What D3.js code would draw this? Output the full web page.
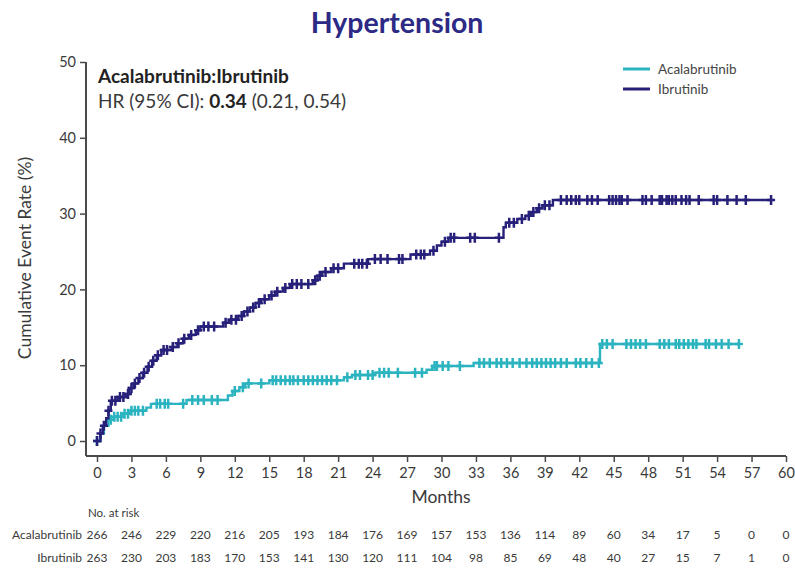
<!DOCTYPE html>
<html>
<head>
<meta charset="utf-8">
<script src="https://cdn.jsdelivr.net/npm/d3@7"></script>
<style>
  html, body { margin: 0; padding: 0; background: #fff; }
  svg { display: block; font-family: Lato, "Open Sans", sans-serif; }
</style>
</head>
<body>
<svg id="chart" width="795" height="570"></svg>
<script>
// Kaplan-Meier cumulative event curves: [month, cumulative event rate %]
const acalaSteps = [
  [0, 0], [0.3, 1], [0.6, 2], [1.0, 2.8], [1.5, 3.2], [2.2, 3.6], [2.8, 4.0],
  [4.3, 4.4], [4.7, 4.9], [7.8, 5.4], [11.4, 6.0], [11.8, 6.6], [12.4, 7.1],
  [12.9, 7.6], [15.0, 8.0], [21.5, 8.4], [22.2, 8.7], [24.2, 9.0], [28.7, 9.4],
  [29.2, 9.9], [32.8, 10.3], [43.8, 12.8]
];
const acalaEnd = 55.9;
const acalaCensor = [
  0, 1.2, 1.5, 1.8, 2.1, 2.4, 2.7, 3.0, 3.3, 3.6, 4.0, 5.2, 5.5, 5.9, 6.2, 7.5,
  8.3, 8.8, 9.3, 10.0, 10.5, 12.0, 12.7, 13.2, 14.3, 15.3, 15.6, 16.0, 16.4,
  16.8, 17.1, 17.5, 18.0, 18.4, 18.8, 19.2, 19.6, 20.0, 20.4, 20.9, 21.8, 22.5,
  22.9, 23.6, 24.0, 24.6, 25.0, 25.4, 26.2, 27.7, 28.3, 29.4, 29.6, 30.1, 30.6,
  31.6, 33.3, 33.7, 34.2, 34.8, 35.2, 35.7, 36.2, 36.8, 37.4, 37.9, 38.3, 38.7,
  39.1, 39.5, 39.9, 40.4, 40.9, 41.7, 42.1, 42.6, 43.1, 43.7, 44.0, 44.4, 44.9,
  46.1, 46.5, 46.9, 47.3, 47.8, 49.0, 49.4, 49.8, 50.4, 50.7, 51.1, 51.5, 51.9,
  52.2, 53.0, 53.3, 53.9, 54.4, 55.0, 55.9
];

const ibruSteps = [
  [0, 0], [0.3, 1], [0.5, 2], [0.8, 3], [1.0, 4], [1.2, 5.3], [1.8, 5.8],
  [2.5, 6.2], [2.8, 7.0], [3.2, 7.6], [3.6, 8.3], [4.0, 9.0], [4.4, 9.8],
  [4.8, 10.6], [5.2, 11.3], [5.6, 12.0], [6.5, 12.4], [7.0, 12.9], [7.5, 13.5],
  [8.0, 14.0], [8.6, 14.6], [9.0, 15.1], [11.0, 15.6], [11.5, 16.0],
  [12.3, 16.5], [12.8, 17.1], [13.3, 17.6], [13.8, 18.2], [14.3, 18.7],
  [15.0, 19.2], [15.5, 19.7], [16.2, 20.2], [16.8, 20.7], [18.8, 21.2],
  [19.2, 21.8], [19.6, 22.3], [20.4, 22.8], [21.5, 23.4], [23.6, 24.0],
  [27.3, 24.6], [29.0, 25.1], [29.6, 25.8], [30.0, 26.3], [30.6, 26.8],
  [35.4, 28.2], [35.6, 28.8], [36.6, 29.3], [37.3, 29.7], [37.8, 30.2],
  [38.3, 30.7], [38.8, 31.1], [39.7, 31.8]
];
const ibruEnd = 58.7;
const ibruCensor = [
  0, 0.3, 0.6, 1.0, 1.3, 1.6, 2.0, 2.3, 2.7, 3.0, 3.3, 3.7, 4.1, 4.5, 4.9, 5.3,
  5.8, 6.1, 6.6, 7.1, 7.6, 8.2, 8.8, 9.3, 9.7, 10.2, 11.2, 11.7, 12.1, 12.6,
  13.1, 13.6, 14.1, 14.6, 15.2, 15.7, 16.4, 17.0, 17.4, 17.8, 18.4, 19.0, 19.4,
  19.9, 20.6, 21.0, 22.4, 22.8, 23.1, 23.5, 24.2, 24.7, 25.3, 26.3, 26.6, 27.8,
  28.2, 28.5, 29.3, 30.3, 30.8, 31.1, 32.5, 32.9, 35.0, 35.9, 36.3, 37.0, 37.6,
  38.0, 38.5, 39.0, 39.4, 40.4, 40.9, 41.3, 41.7, 42.0, 42.7, 43.1, 43.6, 44.6,
  44.9, 45.2, 45.5, 45.7, 46.2, 47.5, 47.8, 48.3, 49.0, 49.2, 49.6, 49.8, 50.1,
  50.4, 50.9, 51.3, 51.6, 52.4, 53.7, 54.0, 54.9, 55.7, 56.5, 58.7
];

// Numbers at risk at every 3-month tick
const riskMonths = d3.range(0, 61, 3);
const acalaRisk = [266, 246, 229, 220, 216, 205, 193, 184, 176, 169, 157, 153, 136, 114, 89, 60, 34, 17, 5, 0, 0];
const ibruRisk = [263, 230, 203, 183, 170, 153, 141, 130, 120, 111, 104, 98, 85, 69, 48, 40, 27, 15, 7, 1, 0];

const yTicks = [0, 10, 20, 30, 40, 50];
const xTicks = riskMonths;

const colAcala = "#2bb3c0";
const colIbru = "#27207a";
const textCol = "#3a3a3a";

const svg = d3.select("#chart");

const x = d3.scaleLinear().domain([0, 60]).range([97, 786]);
const y = d3.scaleLinear().domain([0, 50]).range([441, 62]);

// Title
svg.append("text")
  .attr("x", 397).attr("y", 33)
  .attr("text-anchor", "middle")
  .attr("font-size", 28.5).attr("font-weight", "bold")
  .attr("fill", "#2d2a86")
  .text("Hypertension");

// Axes
const yAxis = svg.append("g")
  .attr("transform", "translate(86,0)")
  .call(d3.axisLeft(y).tickValues(yTicks).tickSize(6).tickPadding(4));
yAxis.select(".domain").attr("d", `M0,${y(50)}V456`);

const xAxis = svg.append("g")
  .attr("transform", "translate(0,456)")
  .call(d3.axisBottom(x).tickValues(xTicks).tickSize(6).tickPadding(6));
xAxis.select(".domain").attr("d", `M86,0H${x(60)}`);

[yAxis, xAxis].forEach(g => {
  g.selectAll(".domain").attr("stroke", "#4a4a4a").attr("stroke-width", 2);
  g.selectAll(".tick line").attr("stroke", "#4a4a4a").attr("stroke-width", 1.5);
  g.selectAll(".tick text").attr("fill", textCol).attr("font-size", 14.5)
    .attr("font-family", "Lato, sans-serif");
});

// Axis titles
svg.append("text")
  .attr("transform", "translate(31,258) rotate(-90)")
  .attr("text-anchor", "middle")
  .attr("font-size", 17.5).attr("fill", textCol)
  .text("Cumulative Event Rate (%)");

svg.append("text")
  .attr("x", 441).attr("y", 503)
  .attr("text-anchor", "middle")
  .attr("font-size", 17.5).attr("fill", textCol)
  .text("Months");

// Step curve helpers
function stepPath(steps, end) {
  const pts = steps.map(d => [d[0], d[1]]);
  pts.push([end, steps[steps.length - 1][1]]);
  return d3.line().x(d => x(d[0])).y(d => y(d[1])).curve(d3.curveStepAfter)(pts);
}
function valueAt(steps, t) {
  let v = 0;
  for (const s of steps) { if (s[0] <= t) v = s[1]; else break; }
  return v;
}
function drawSeries(steps, end, censor, color) {
  svg.append("path")
    .attr("d", stepPath(steps, end))
    .attr("fill", "none")
    .attr("stroke", color)
    .attr("stroke-width", 2.4);
  const g = svg.append("g").attr("stroke", color).attr("stroke-width", 2.5);
  censor.forEach(t => {
    const cx = x(t), cy = y(valueAt(steps, t));
    g.append("path").attr("d", `M${cx - 4},${cy}H${cx + 4}M${cx},${cy - 5}V${cy + 5}`);
  });
}

drawSeries(acalaSteps, acalaEnd, acalaCensor, colAcala);
drawSeries(ibruSteps, ibruEnd, ibruCensor, colIbru);

// Hazard ratio annotation
svg.append("text")
  .attr("x", 98).attr("y", 83)
  .attr("font-size", 19).attr("font-weight", "bold").attr("fill", "#222")
  .text("Acalabrutinib:Ibrutinib");
const hr = svg.append("text")
  .attr("x", 98).attr("y", 108)
  .attr("font-size", 19).attr("fill", textCol);
hr.append("tspan").text("HR (95% CI): ");
hr.append("tspan").attr("font-weight", "bold").attr("fill", "#222").text("0.34");
hr.append("tspan").text(" (0.21, 0.54)");

// Legend
const legend = [
  { name: "Acalabrutinib", color: colAcala, yy: 69 },
  { name: "Ibrutinib", color: colIbru, yy: 89 }
];
legend.forEach(l => {
  svg.append("line")
    .attr("x1", 623).attr("x2", 650).attr("y1", l.yy).attr("y2", l.yy)
    .attr("stroke", l.color).attr("stroke-width", 3);
  svg.append("text")
    .attr("x", 658).attr("y", l.yy + 4.5)
    .attr("font-size", 13.5).attr("fill", "#444")
    .text(l.name);
});

// Number at risk table
svg.append("text")
  .attr("x", 88).attr("y", 517)
  .attr("font-size", 11.5).attr("fill", textCol)
  .text("No. at risk");

const rows = [
  { name: "Acalabrutinib", values: acalaRisk, yy: 539 },
  { name: "Ibrutinib", values: ibruRisk, yy: 562 }
];
rows.forEach(r => {
  svg.append("text")
    .attr("x", 82).attr("y", r.yy)
    .attr("text-anchor", "end")
    .attr("font-size", 12).attr("fill", textCol)
    .text(r.name);
  svg.append("g").selectAll("text")
    .data(r.values)
    .join("text")
    .attr("x", (d, i) => x(riskMonths[i]))
    .attr("y", r.yy)
    .attr("text-anchor", "middle")
    .attr("font-size", 12).attr("fill", textCol)
    .text(d => d);
});
</script>
</body>
</html>
